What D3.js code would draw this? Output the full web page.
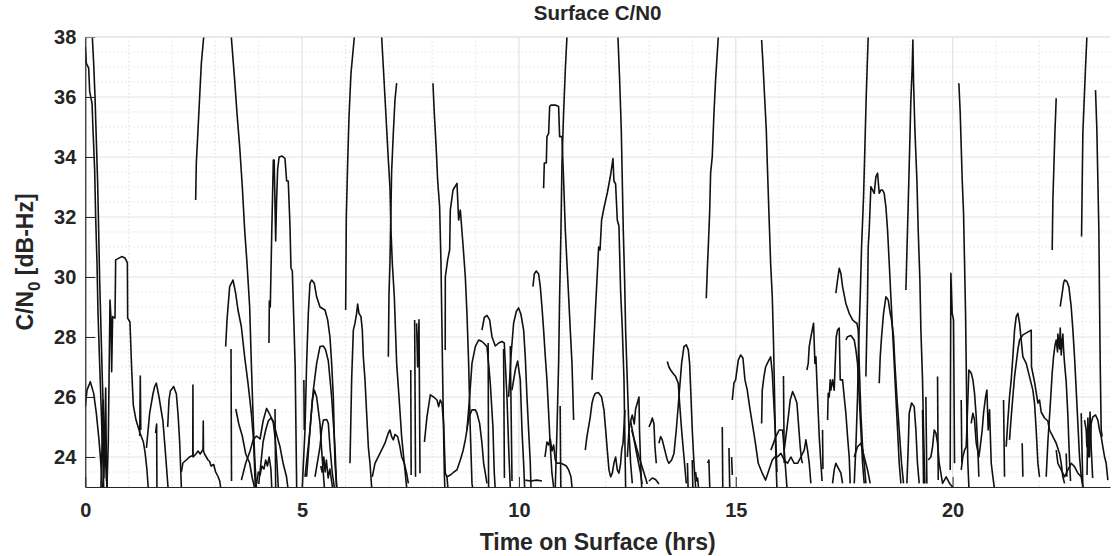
<!DOCTYPE html>
<html><head><meta charset="utf-8">
<script src="https://cdn.jsdelivr.net/npm/d3@7"></script>
<style>body{margin:0;background:#fff}svg{display:block}</style>
</head><body><svg id="chart" width="1120" height="556"></svg>
<script>
// ---- axis settings ----
const xDomain = [0, 23.63];
const yDomain = [23, 38];
const xTicks = [0, 5, 10, 15, 20];
const yTicks = [24, 26, 28, 30, 32, 34, 36, 38];
const titleText = "Surface C/N0";
const xLabelText = "Time on Surface (hrs)";

// ---- tracks: [time (hrs), C/N0 (dB-Hz)] ----
const trk001 = [[0,37.68],[0.024,37.12],[0.078,36.96],[0.101,36.18],[0.155,35.79],[0.178,34.9],[0.216,33.57],[0.239,32.0],[0.27,30.46],[0.293,28.8],[0.331,27.12],[0.37,25.46],[0.408,23.79],[0.424,23.0]];
const trk002 = [[0.162,38],[0.193,37.12],[0.224,36.01],[0.254,34.57],[0.285,33.12],[0.308,31.57],[0.331,29.9],[0.362,28.23],[0.393,26.57],[0.431,24.9],[0.47,23.79],[0.5,23.0]];
const trk003 = [[0,25.68],[0.039,26.23],[0.116,26.51],[0.193,26.12],[0.254,25.46],[0.316,24.57],[0.37,23.57],[0.393,23.0]];
const trk004 = [[0.36,23.0],[0.39,24.6],[0.41,25.9],[0.43,23.3],[0.45,24.8],[0.47,26.3],[0.49,23.2]];
const trk005 = [[0.5,23.0],[0.53,24.5],[0.555,27.5],[0.57,29.23],[0.59,28.68],[0.608,26.84],[0.63,28.68],[0.685,28.63],[0.7,30.57],[0.84,30.68],[0.915,30.63],[0.97,30.48],[0.977,28.63],[1.03,28.5],[1.07,26.9],[1.107,25.73],[1.17,25.23],[1.26,24.8],[1.34,24.5],[1.38,24.13],[1.42,23.6],[1.45,23.0]];
const trk006 = [[1.41,24.3],[1.484,25.46],[1.56,26.1],[1.6,26.35],[1.638,26.46],[1.7,26.0],[1.79,25.2],[1.85,24.1],[1.907,23.0]];
const trk007 = [[1.9,25.0],[1.93,25.9],[1.961,26.2],[2.038,26.35],[2.1,26.1],[2.14,25.4],[2.176,24.5],[2.215,23.0]];
const trk008 = [[1.255,24.7],[1.268,26.7],[1.28,24.9]];
const trk009 = [[1.62,24.8],[1.645,25.1],[1.652,23.0]];
const trk010 = [[2.215,23.5],[2.25,23.8],[2.33,23.9],[2.4,24.0],[2.478,24.05],[2.482,26.4],[2.486,24.0],[2.55,24.1],[2.6,24.2],[2.65,24.1],[2.714,24.25],[2.72,25.2],[2.726,24.2],[2.75,24.1],[2.79,24.0],[2.83,23.9],[2.868,23.85],[2.9,23.7],[2.96,23.75],[3.006,23.5],[3.06,23.35],[3.1,23.2],[3.12,23.0]];
const trk011 = [[2.545,32.57],[2.56,33.79],[2.599,34.9],[2.637,36.01],[2.676,37.12],[2.73,38]];
const trk012 = [[3.367,38],[3.444,36.57],[3.498,35.46],[3.56,34.34],[3.621,33.0],[3.675,31.57],[3.729,30.46],[3.79,29.01],[3.829,27.12],[3.867,25.46],[3.906,24.0],[3.944,23.0]];
const trk013 = [[3.237,27.68],[3.268,28.57],[3.329,29.68],[3.406,29.9],[3.467,29.46],[3.521,28.9],[3.598,28.35],[3.675,27.34],[3.752,26.46],[3.829,25.46],[3.882,24.5],[3.92,23.0]];
const trk014 = [[3.36,27.6],[3.372,23.2]];
const trk015 = [[3.47,25.6],[3.54,25.1],[3.62,24.7],[3.7,24.1],[3.79,23.8],[3.85,23.3],[3.9,23.0]];
const trk016 = [[3.6,23.23],[3.7,23.8],[3.8,24.2],[3.87,24.57],[3.95,24.7],[4.03,24.6],[4.1,25.2],[4.18,25.62],[4.26,25.4],[4.35,25.12],[4.42,24.7],[4.49,24.34],[4.56,23.8],[4.64,23.34],[4.67,23.0]];
const trk017 = [[4.0,23.1],[4.05,23.8],[4.1,24.5],[4.16,24.9],[4.22,25.2],[4.28,25.3],[4.33,25.2],[4.38,24.6],[4.42,23.8],[4.45,23.0]];
const trk018 = [[4.375,25.6],[4.39,23.0]];
const trk019 = [[3.95,23.1],[3.99,23.5],[4.03,23.4],[4.07,23.7],[4.12,23.6],[4.16,23.9],[4.2,23.7],[4.24,24.0],[4.28,23.6],[4.3,23.0]];
const trk020 = [[4.236,27.8],[4.244,29.2],[4.266,29.0],[4.3,31.5],[4.336,33.9],[4.356,33.9],[4.39,31.2],[4.41,32.5],[4.436,33.6],[4.47,34.0],[4.54,34.03],[4.605,33.95],[4.643,33.2],[4.68,33.2],[4.72,31.7],[4.743,30.3],[4.774,30.2],[4.82,28.0],[4.84,27.0],[4.874,23.0]];
const trk021 = [[5.004,23.0],[5.066,24.9],[5.104,27.12],[5.143,28.79],[5.181,29.79],[5.22,29.9],[5.281,29.79],[5.335,29.34],[5.412,29.0],[5.527,28.9],[5.589,28.57],[5.642,28.0],[5.681,27.12],[5.719,26.01],[5.758,23.79],[5.796,23.0]];
const trk022 = [[5.04,26.57],[5.05,24.9]];
const trk023 = [[5.066,23.34],[5.181,24.9],[5.258,26.23],[5.335,27.12],[5.412,27.68],[5.489,27.7],[5.542,27.57],[5.604,27.2],[5.681,26.0],[5.758,24.3],[5.796,23.0]];
const trk024 = [[5.104,23.34],[5.181,24.9],[5.235,25.9],[5.281,26.23],[5.335,26.0],[5.412,25.12],[5.45,24.23],[5.489,23.46],[5.512,23.0]];
const trk025 = [[5.297,23.34],[5.412,24.34],[5.45,24.9],[5.489,25.23],[5.566,25.25],[5.604,25.12],[5.642,24.34],[5.696,23.46],[5.742,23.0]];
const trk026 = [[5.43,23.7],[5.46,23.5],[5.5,24.0],[5.53,23.5],[5.56,23.9],[5.6,23.3],[5.64,23.6],[5.7,23.0]];
const trk027 = [[6.004,28.9],[6.019,32.01],[6.05,33.79],[6.081,35.34],[6.127,36.79],[6.204,38]];
const trk028 = [[6.104,23.79],[6.142,26.57],[6.181,28.23],[6.219,28.46],[6.257,28.79],[6.28,29.1],[6.311,28.79],[6.357,28.68],[6.388,28.23],[6.411,27.34],[6.45,26.57],[6.488,25.46],[6.527,24.34],[6.565,23.79],[6.603,23.0]];
const trk029 = [[6.834,38],[6.872,37.01],[6.91,36.01],[6.988,33.9],[7.026,33.0],[7.049,31.57],[7.08,30.46],[7.126,29.34],[7.18,27.12],[7.234,26.01],[7.295,24.68],[7.356,23.79],[7.41,23.0]];
const trk030 = [[6.988,27.34],[7.003,29.4],[7.026,30.5],[7.064,33.5],[7.103,34.79],[7.141,35.9],[7.18,36.46]];
const trk031 = [[6.619,23.34],[6.68,23.79],[6.795,24.12],[6.91,24.46],[6.988,24.8],[7.026,24.9],[7.064,24.68],[7.103,24.57],[7.141,24.75],[7.203,24.68],[7.256,24.34],[7.295,24.01],[7.356,23.79],[7.41,23.46],[7.449,23.12]];
const trk032 = [[7.505,26.9],[7.515,23.4]];
const trk033 = [[7.595,28.57],[7.615,23.34]];
const trk034 = [[7.64,28.46],[7.664,27.0],[7.695,28.57],[7.718,23.46]];
const trk035 = [[7.82,24.5],[7.879,25.34],[7.956,26.07],[8.033,26.0],[8.11,25.9],[8.148,25.68],[8.186,25.9],[8.225,25.79],[8.263,25.12],[8.302,23.46],[8.34,23.34],[8.36,23.0]];
const trk036 = [[8.017,36.46],[8.048,35.46],[8.094,34.23],[8.125,33.23],[8.171,32.34],[8.202,30.46],[8.225,28.23],[8.248,26.01],[8.279,23.46],[8.29,23.0]];
const trk037 = [[8.3,27.57],[8.302,30.0],[8.356,30.57],[8.402,30.9],[8.417,32.23],[8.48,32.9],[8.571,33.12],[8.609,31.9],[8.648,32.23],[8.709,31.1],[8.763,30.01],[8.801,28.79],[8.84,27.12],[8.878,24.9],[8.917,23.12],[8.93,23.0]];
const trk038 = [[8.34,23.34],[8.42,23.4],[8.5,23.5],[8.57,23.57],[8.648,23.9],[8.71,24.2],[8.763,24.57],[8.801,24.9],[8.84,25.3],[8.917,25.57],[8.994,25.57],[9.032,25.46],[9.093,25.12],[9.147,24.46],[9.186,23.79],[9.224,23.46],[9.262,23.12]];
const trk039 = [[8.801,24.9],[8.863,26.0],[8.917,27.12],[8.994,27.68],[9.07,27.9],[9.147,27.85],[9.186,27.8],[9.262,27.68],[9.3,27.12],[9.339,26.46],[9.4,25.0],[9.43,23.5],[9.45,23.0]];
const trk040 = [[9.147,28.23],[9.201,28.65],[9.262,28.72],[9.324,28.57],[9.378,28.01],[9.455,27.7],[9.532,27.8],[9.608,27.85],[9.662,27.8],[9.685,27.12],[9.724,26.0],[9.762,24.34],[9.8,23.0]];
const trk041 = [[9.29,27.8],[9.3,23.0]];
const trk042 = [[9.646,27.6],[9.665,23.3]];
const trk043 = [[9.8,27.7],[9.84,23.2]];
const trk044 = [[9.762,26.0],[9.816,27.35],[9.877,28.46],[9.939,28.85],[9.993,28.97],[10.047,28.75],[10.108,28.23],[10.146,27.34],[10.185,26.0],[10.223,24.9],[10.262,23.79],[10.277,23.0]];
const trk045 = [[9.839,26.23],[9.916,26.9],[9.97,27.2],[10.031,26.57],[10.07,24.9],[10.108,23.79],[10.13,23.0]];
const trk046 = [[10.146,23.23],[10.262,23.2],[10.415,23.23],[10.531,23.2]];
const trk047 = [[10.323,29.68],[10.354,30.1],[10.4,30.2],[10.454,30.1],[10.492,29.68],[10.531,29.0],[10.569,28.23],[10.608,27.34],[10.646,26.57],[10.685,25.46],[10.723,24.34],[10.761,23.46],[10.8,23.0]];
const trk048 = [[10.569,32.96],[10.585,33.8],[10.631,33.8],[10.646,34.68],[10.685,34.79],[10.708,35.68],[10.738,35.73],[10.838,35.73],[10.915,35.68],[10.938,34.68],[10.992,34.68],[11.03,33.23],[11.069,31.57],[11.107,30.46],[11.146,29.34],[11.184,28.23],[11.223,27.12],[11.246,26.0],[11.261,25.23]];
const trk049 = [[10.838,23.0],[10.877,24.9],[10.915,27.12],[10.938,29.34],[10.969,31.57],[10.992,33.79],[11.03,35.46],[11.069,36.9],[11.107,38]];
const trk050 = [[10.95,25.7],[10.965,23.0]];
const trk051 = [[10.6,24.0],[10.646,24.5],[10.685,24.4],[10.723,24.6],[10.761,24.2],[10.8,24.4],[10.838,23.9],[10.877,23.79],[10.954,23.8],[11.03,23.75],[11.092,23.7],[11.146,23.57],[11.2,23.34],[11.223,23.0]];
const trk052 = [[11.53,24.23],[11.568,24.68],[11.645,25.34],[11.684,25.79],[11.722,26.0],[11.76,26.12],[11.83,26.15],[11.906,26.0],[11.96,25.57],[12.0,24.9],[12.037,24.23],[12.076,23.57],[12.114,23.34],[12.153,23.46],[12.19,23.79],[12.23,24.0],[12.268,23.57],[12.306,23.46],[12.345,23.79],[12.368,24.23],[12.4,24.46],[12.445,25.57]];
const trk053 = [[11.684,26.57],[11.722,27.68],[11.76,28.79],[11.799,29.9],[11.838,31.0],[11.87,30.9],[11.906,31.9],[11.96,32.3],[12.037,32.8],[12.114,33.4],[12.168,33.95],[12.191,33.2],[12.229,33.1],[12.268,31.9],[12.306,31.7],[12.345,29.5],[12.383,28.3],[12.422,26.6],[12.445,24.4],[12.46,23.0]];
const trk054 = [[12.283,38],[12.322,36.57],[12.36,34.9],[12.383,33.23],[12.406,31.57],[12.437,29.9],[12.46,28.23],[12.498,26.57],[12.537,24.9],[12.575,23.79],[12.614,23.12]];
const trk055 = [[12.5,24.0],[12.537,24.9],[12.575,25.2],[12.614,25.4],[12.66,25.1],[12.69,25.6],[12.73,25.8],[12.768,26.0],[12.78,24.9],[12.806,23.8],[12.83,23.0]];
const trk056 = [[12.575,25.2],[12.69,24.3],[12.8,23.5],[12.84,23.1]];
const trk057 = [[12.6,24.9],[12.77,24.0],[12.92,23.3],[12.96,23.1]];
const trk058 = [[12.998,23.2],[13.075,23.3],[13.15,23.25],[13.228,23.1]];
const trk059 = [[12.998,25.0],[13.036,25.12],[13.075,25.3],[13.113,25.12],[13.136,24.34],[13.167,23.79]];
const trk060 = [[13.228,24.46],[13.267,24.68],[13.305,24.57],[13.344,24.34],[13.382,24.12],[13.421,23.9],[13.459,23.79],[13.521,23.9],[13.575,24.12],[13.628,24.9],[13.69,26.01],[13.751,27.12],[13.805,27.68],[13.859,27.74],[13.905,27.57],[13.936,27.12],[13.967,26.01],[13.997,24.9],[14.036,23.79],[14.074,23.0]];
const trk061 = [[13.421,27.18],[13.459,27.0],[13.498,26.9],[13.551,26.79],[13.613,26.68],[13.674,26.46],[13.705,25.79],[13.751,24.9],[13.805,24.01],[13.859,23.12]];
const trk062 = [[13.886,23.8],[13.9,23.0]];
const trk063 = [[13.997,23.9],[14.01,23.0]];
const trk064 = [[14.074,23.5],[14.1,23.2],[14.12,23.3],[14.14,23.0]];
const trk065 = [[14.35,23.8],[14.38,23.9],[14.4,23.0]];
const trk066 = [[14.689,25.0],[14.7,23.0]];
const trk067 = [[14.843,24.3],[14.86,23.0]];
const trk068 = [[14.904,24.0],[14.92,23.4]];
const trk069 = [[14.32,29.29],[14.343,30.23],[14.366,31.0],[14.397,32.12],[14.42,33.46],[14.458,34.01],[14.497,35.46],[14.535,36.57],[14.597,38]];
const trk070 = [[15.596,37.9],[15.627,37.12],[15.665,36.01],[15.704,34.9],[15.727,33.79],[15.765,32.12],[15.804,30.46],[15.842,29.34],[15.871,27.8],[15.902,25.5],[15.925,24.0],[15.948,23.0]];
const trk071 = [[14.92,25.9],[14.958,26.46],[14.997,26.57],[15.058,27.23],[15.112,27.4],[15.165,27.3],[15.212,26.57],[15.265,26.23],[15.319,25.68],[15.381,25.12],[15.442,24.57],[15.519,23.79],[15.611,23.46],[15.688,23.23],[15.765,23.57],[15.842,23.9],[15.9,24.0],[15.964,24.01],[16.041,24.12],[16.117,23.9],[16.194,23.79],[16.271,24.0],[16.348,23.79],[16.425,23.79],[16.502,24.0],[16.579,24.23],[16.617,24.57],[16.655,24.23],[16.694,23.79],[16.732,23.12]];
const trk072 = [[15.596,25.12],[15.611,26.23],[15.65,26.68],[15.688,27.0],[15.727,27.12],[15.765,27.23],[15.804,27.34],[15.842,26.8],[15.87,26.0],[15.925,24.5],[15.95,23.5]];
const trk073 = [[15.81,24.23],[15.925,24.68],[16.0,24.9],[16.079,24.9],[16.117,24.23],[16.156,23.46],[16.18,23.0]];
const trk074 = [[16.1,26.7],[16.117,23.8]];
const trk075 = [[16.117,24.23],[16.194,25.12],[16.256,25.9],[16.31,26.18],[16.363,26.0],[16.41,25.8],[16.44,25.23],[16.486,24.34],[16.517,23.9],[16.54,23.79]];
const trk076 = [[16.64,26.9],[16.671,27.12],[16.694,27.68],[16.732,28.0],[16.794,28.46],[16.825,27.12],[16.848,27.34],[16.886,26.0],[16.925,24.68],[16.963,23.79],[16.99,23.2]];
const trk077 = [[17.001,24.9],[17.01,23.6]];
const trk078 = [[17.117,25.23],[17.132,26.12],[17.155,26.0],[17.178,26.57],[17.193,26.23],[17.232,26.57],[17.27,26.23],[17.293,27.12],[17.316,28.0],[17.347,28.23],[17.386,28.3],[17.409,26.57],[17.463,26.57],[17.501,26.0],[17.539,25.46],[17.578,24.68],[17.616,24.0],[17.639,23.12]];
const trk079 = [[17.309,29.46],[17.347,29.9],[17.386,30.29],[17.424,30.12],[17.463,29.68],[17.539,29.12],[17.616,28.79],[17.693,28.57],[17.747,28.5],[17.793,28.46],[17.824,28.23],[17.847,27.12],[17.885,25.46],[17.924,24.34],[17.962,23.79],[18.001,23.12]];
const trk080 = [[17.539,27.9],[17.578,28.01],[17.655,28.05],[17.732,27.9],[17.77,27.57],[17.808,27.12],[17.847,26.01],[17.885,24.9],[17.924,23.79],[17.962,23.12]];
const trk081 = [[17.732,23.12],[17.77,24.34],[17.808,26.01],[17.832,27.68],[17.87,29.34],[17.901,31.01],[17.947,32.68],[17.978,34.34],[18.008,36.01],[18.054,38]];
const trk082 = [[17.232,23.12],[17.27,23.57],[17.309,23.79],[17.347,23.68],[17.386,23.57],[17.424,23.46],[17.463,23.12]];
const trk083 = [[17.732,24.0],[17.808,24.34],[17.885,24.46],[17.962,24.0],[18.039,23.57],[18.1,23.12]];
const trk084 = [[18.001,26.68],[18.039,29.34],[18.054,31.01],[18.077,31.57],[18.116,33.01],[18.154,32.9],[18.193,32.79],[18.231,33.34],[18.27,33.46],[18.308,32.79],[18.346,32.9],[18.385,32.9],[18.423,32.79],[18.462,32.34],[18.5,31.57],[18.539,30.46],[18.577,29.34],[18.616,28.23],[18.654,27.12],[18.692,26.01],[18.731,24.9],[18.769,23.79],[18.808,23.12]];
const trk085 = [[18.308,26.46],[18.331,27.34],[18.362,28.0],[18.408,28.79],[18.462,29.34],[18.516,29.23],[18.562,28.79],[18.592,28.57],[18.639,28.01],[18.669,27.12],[18.715,26.01],[18.769,24.9],[18.823,23.79],[18.869,23.12]];
const trk086 = [[18.923,29.57],[18.946,30.8],[18.977,32.46],[19.007,34.12],[19.038,35.9],[19.054,36.46],[19.069,37.0],[19.084,37.9],[19.1,36.5],[19.131,34.9],[19.177,33.23],[19.207,31.57],[19.246,29.9],[19.269,28.23],[19.307,26.57],[19.33,24.9],[19.361,23.12]];
const trk087 = [[18.946,23.12],[18.977,24.34],[19.0,25.46],[19.054,25.8],[19.115,25.68],[19.154,24.9],[19.19,23.79],[19.23,23.12]];
const trk088 = [[19.307,25.57],[19.33,23.12]];
const trk089 = [[19.384,26.0],[19.407,23.12]];
const trk090 = [[19.438,23.9],[19.499,24.0],[19.538,24.34],[19.576,24.9],[19.615,24.8],[19.653,24.46],[19.692,23.79],[19.73,23.46],[19.768,23.12],[19.853,23.34],[19.93,23.12],[20.0,23.0]];
const trk091 = [[19.653,26.68],[19.669,23.23]];
const trk092 = [[19.945,23.57],[19.96,30.12],[19.991,28.79],[20.022,28.57],[20.045,23.79]];
const trk093 = [[20.145,36.46],[20.176,35.46],[20.199,34.34],[20.222,33.23],[20.253,32.12],[20.276,30.46],[20.299,28.79],[20.314,27.12],[20.329,25.46],[20.352,23.79],[20.376,23.0]];
const trk094 = [[20.199,23.57],[20.237,24.01],[20.276,24.23],[20.314,24.34],[20.352,25.9],[20.376,26.9],[20.429,26.8],[20.468,26.57],[20.506,26.12],[20.545,25.34],[20.583,24.23],[20.606,23.34]];
const trk095 = [[20.199,25.9],[20.214,23.8]];
const trk096 = [[20.429,25.12],[20.468,25.46],[20.506,25.23],[20.545,24.46],[20.606,24.0],[20.637,24.34],[20.683,24.9],[20.714,25.46],[20.76,26.0],[20.791,26.23],[20.821,24.9],[20.852,25.57],[20.891,23.8],[20.929,23.34],[20.96,23.0]];
const trk097 = [[21.175,25.9],[21.198,23.34]];
const trk098 = [[21.236,24.34],[21.275,25.23],[21.313,26.01],[21.352,26.57],[21.39,27.34],[21.429,28.23],[21.467,28.68],[21.505,28.79],[21.544,28.46],[21.582,27.9],[21.621,27.34],[21.698,27.12],[21.774,26.68],[21.851,26.23],[21.89,25.79],[21.928,24.9],[21.967,23.79],[22.005,23.34]];
const trk099 = [[21.313,24.57],[21.352,25.34],[21.39,26.01],[21.429,26.68],[21.505,27.57],[21.544,27.9],[21.621,28.07],[21.813,28.23],[21.82,27.0],[21.89,26.5],[21.967,25.8],[22.005,25.9],[22.043,25.5],[22.12,25.3],[22.197,25.2],[22.236,24.9],[22.313,24.68],[22.389,24.46],[22.466,24.12],[22.505,23.79],[22.543,23.34],[22.582,23.12]];
const trk100 = [[21.605,24.46],[21.621,23.34]];
const trk101 = [[22.159,23.34],[22.197,24.5],[22.251,25.7],[22.297,26.8],[22.328,27.34],[22.359,27.7],[22.389,27.9],[22.42,27.5],[22.428,28.1],[22.466,27.6],[22.482,28.3],[22.505,27.4],[22.528,27.9],[22.543,28.1],[22.559,27.6],[22.582,27.12],[22.62,26.5],[22.658,25.4],[22.681,24.5],[22.7,23.8],[22.72,23.2]];
const trk102 = [[22.482,29.01],[22.528,29.46],[22.559,29.79],[22.582,29.9],[22.636,29.85],[22.681,29.68],[22.735,29.01],[22.774,28.23],[22.812,27.34],[22.851,26.23],[22.889,25.12],[22.927,24.01],[22.966,23.34],[23.004,23.0]];
const trk103 = [[22.297,30.9],[22.313,32.57],[22.336,33.68],[22.359,34.79],[22.374,35.34],[22.389,35.96]];
const trk104 = [[22.974,31.35],[22.989,33.12],[23.004,34.79],[23.035,35.9],[23.066,37.0],[23.097,38]];
const trk105 = [[23.296,36.23],[23.327,34.9],[23.35,33.23],[23.373,31.57],[23.388,29.34],[23.404,27.12],[23.427,24.9],[23.45,24.68]];
const trk106 = [[23.043,25.23],[23.081,24.9],[23.097,24.34],[23.143,24.68],[23.158,24.01],[23.196,25.12],[23.235,25.34],[23.296,25.4],[23.35,25.23],[23.388,24.9],[23.427,24.68],[23.465,24.34],[23.504,24.01],[23.542,23.79],[23.581,23.23]];
const trk107 = [[22.389,24.23],[22.428,23.79],[22.505,23.57],[22.582,23.34],[22.658,23.57],[22.735,23.79],[22.812,23.68],[22.889,23.46],[22.966,23.34]];
const trk108 = [[22.62,24.12],[22.636,23.34]];
const trk109 = [[22.966,25.46],[23.004,23.0]];
const trk110 = [[23.1,23.4],[23.12,25.3],[23.14,24.0],[23.17,25.5],[23.2,24.2],[23.23,23.3]];

const tracks = [trk001,trk002,trk003,trk004,trk005,trk006,trk007,trk008,trk009,trk010,
  trk011,trk012,trk013,trk014,trk015,trk016,trk017,trk018,trk019,trk020,
  trk021,trk022,trk023,trk024,trk025,trk026,trk027,trk028,trk029,trk030,
  trk031,trk032,trk033,trk034,trk035,trk036,trk037,trk038,trk039,trk040,
  trk041,trk042,trk043,trk044,trk045,trk046,trk047,trk048,trk049,trk050,
  trk051,trk052,trk053,trk054,trk055,trk056,trk057,trk058,trk059,trk060,
  trk061,trk062,trk063,trk064,trk065,trk066,trk067,trk068,trk069,trk070,
  trk071,trk072,trk073,trk074,trk075,trk076,trk077,trk078,trk079,trk080,
  trk081,trk082,trk083,trk084,trk085,trk086,trk087,trk088,trk089,trk090,
  trk091,trk092,trk093,trk094,trk095,trk096,trk097,trk098,trk099,trk100,
  trk101,trk102,trk103,trk104,trk105,trk106,trk107,trk108,trk109,trk110];

// ---- drawing ----
const svg = d3.select("#chart");
const m = {l: 85.3, r: 1110, t: 37, b: 487};
const x = d3.scaleLinear().domain(xDomain).range([m.l, m.r]);
const y = d3.scaleLinear().domain(yDomain).range([m.b, m.t]);
const FONT = "'Liberation Sans', Arial, Helvetica, sans-serif";
const TXT = "#262626";

svg.append("rect").attr("width",1120).attr("height",556).attr("fill","#fff");

// minor grid
const gGrid = svg.append("g");
const xMinor = d3.range(Math.ceil(xDomain[0]), xDomain[1], 1).filter(v => !xTicks.includes(v));
const yMinor = d3.range(yDomain[0], yDomain[1] + 0.001, 0.5).filter(v => !yTicks.includes(v));
gGrid.selectAll(".xm").data(xMinor).enter().append("line")
  .attr("x1", d => x(d)).attr("x2", d => x(d)).attr("y1", m.t).attr("y2", m.b)
  .attr("stroke", "#d4d4d4").attr("stroke-width", 1).attr("stroke-dasharray", "1,3");
gGrid.selectAll(".ym").data(yMinor).enter().append("line")
  .attr("x1", m.l).attr("x2", m.r).attr("y1", d => y(d)).attr("y2", d => y(d))
  .attr("stroke", "#d4d4d4").attr("stroke-width", 1).attr("stroke-dasharray", "1,3");
// major grid
gGrid.selectAll(".xM").data(xTicks).enter().append("line")
  .attr("x1", d => x(d)).attr("x2", d => x(d)).attr("y1", m.t).attr("y2", m.b)
  .attr("stroke", "#e3e3e3").attr("stroke-width", 1.2);
gGrid.selectAll(".yM").data(yTicks).enter().append("line")
  .attr("x1", m.l).attr("x2", m.r).attr("y1", d => y(d)).attr("y2", d => y(d))
  .attr("stroke", "#e3e3e3").attr("stroke-width", 1.2);

// clip
svg.append("clipPath").attr("id","plotclip").append("rect")
  .attr("x", m.l).attr("y", m.t - 1).attr("width", m.r - m.l).attr("height", m.b - m.t + 1);

const line = d3.line().x(d => x(d[0])).y(d => y(d[1]));
svg.append("g").attr("clip-path","url(#plotclip)")
  .selectAll("path").data(tracks).enter().append("path")
  .attr("d", line).attr("fill","none").attr("stroke","#111")
  .attr("stroke-width", 1.6).attr("stroke-linejoin","round");

// axes
const xAxis = d3.axisBottom(x).tickValues(xTicks).tickSizeInner(-10).tickSizeOuter(0).tickPadding(16).tickFormat(d3.format("d"));
const yAxis = d3.axisLeft(y).tickValues(yTicks).tickSizeInner(-10).tickSizeOuter(0).tickPadding(9).tickFormat(d3.format("d"));
const gx = svg.append("g").attr("transform", `translate(0,${m.b})`).call(xAxis);
const gy = svg.append("g").attr("transform", `translate(${m.l},0)`).call(yAxis);
[gx, gy].forEach(g => {
  g.select(".domain").attr("stroke", "#262626").attr("stroke-width", 1.2);
  g.selectAll(".tick line").attr("stroke", "#262626").attr("stroke-width", 1);
  g.selectAll(".tick text").attr("fill", TXT).style("font-family", FONT)
    .style("font-size", "20px").style("font-weight", "bold");
});
// top border (light)
svg.append("line").attr("x1", m.l).attr("x2", m.r).attr("y1", m.t).attr("y2", m.t)
  .attr("stroke", "#e3e3e3").attr("stroke-width", 1.2);

// title & labels
svg.append("text").attr("x", (m.l + m.r) / 2).attr("y", 20).attr("text-anchor","middle")
  .attr("fill", TXT).style("font-family", FONT).style("font-size","20.5px").style("font-weight","bold")
  .text(titleText);
svg.append("text").attr("x", (m.l + m.r) / 2).attr("y", 550).attr("text-anchor","middle")
  .attr("fill", TXT).style("font-family", FONT).style("font-size","23px").style("font-weight","bold")
  .text(xLabelText);
const yl = svg.append("text").attr("transform", `translate(33,${(m.t + m.b) / 2}) rotate(-90)`)
  .attr("text-anchor","middle").attr("fill", TXT).style("font-family", FONT)
  .style("font-size","23px").style("font-weight","bold");
yl.append("tspan").text("C/N");
yl.append("tspan").attr("dy", 7).style("font-size","17px").text("0");
yl.append("tspan").attr("dy", -7).text(" [dB-Hz]");
</script></body></html>
